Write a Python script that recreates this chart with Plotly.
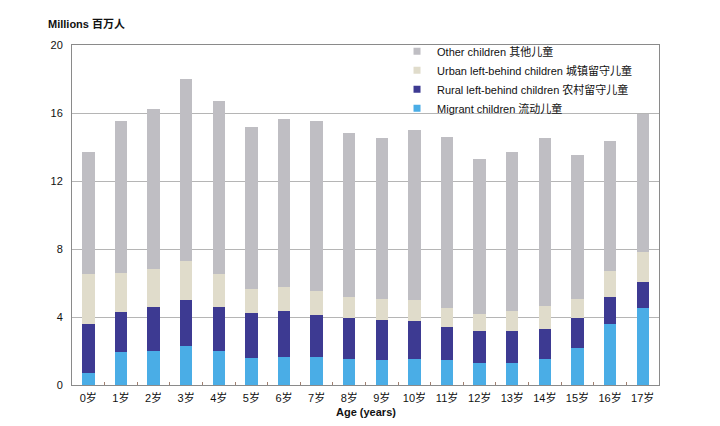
import plotly.graph_objects as go

ages = [f"{i}岁" for i in range(18)]

migrant = [0.73, 1.92, 2.02, 2.29, 2.02, 1.61, 1.67, 1.67, 1.55, 1.49, 1.55, 1.47, 1.27, 1.29, 1.55, 2.20, 3.59, 4.51]
rural   = [2.86, 2.35, 2.55, 2.71, 2.59, 2.61, 2.68, 2.45, 2.41, 2.31, 2.23, 1.92, 1.93, 1.87, 1.76, 1.74, 1.61, 1.57]
urban   = [2.92, 2.34, 2.25, 2.29, 1.94, 1.41, 1.41, 1.39, 1.24, 1.25, 1.22, 1.16, 0.98, 1.21, 1.36, 1.12, 1.51, 1.72]
other   = [7.18, 8.92, 9.43, 10.71, 10.14, 9.53, 9.89, 10.02, 9.62, 9.50, 9.98, 10.04, 9.11, 9.36, 9.84, 8.47, 7.64, 8.14]

series_names = [
    "Migrant children 流动儿童",
    "Rural left-behind children 农村留守儿童",
    "Urban left-behind children 城镇留守儿童",
    "Other children 其他儿童",
]
series_values = [migrant, rural, urban, other]
colors = ["#4aade6", "#3d3a92", "#e0dccb", "#bfbec3"]

y_ticks = [0, 4, 8, 12, 16, 20]

FONT = "Liberation Sans, Arial, Noto Sans CJK SC, sans-serif"

fig = go.Figure()
for name, vals, c in zip(series_names, series_values, colors):
    fig.add_trace(go.Bar(x=ages, y=vals, name=name, legendgroup=name, showlegend=False,
                         marker=dict(color=c, line=dict(width=0)), width=0.38))
# legend entries with small square swatches
for name, c in zip(series_names, colors):
    fig.add_trace(go.Scatter(x=[None], y=[None], mode="markers", name=name, legendgroup=name,
                             marker=dict(symbol="square", size=7, color=c), showlegend=True))

fig.update_layout(
    barmode="stack",
    width=720, height=426,
    margin=dict(l=72, r=61, t=45, b=41),
    paper_bgcolor="white", plot_bgcolor="white",
    font=dict(family=FONT, size=11, color="#111"),
    showlegend=True,
    legend=dict(
        x=0.5537, y=1.024, xanchor="left", yanchor="top",
        traceorder="reversed",
        bgcolor="rgba(255,255,255,0)",
        font=dict(size=11, family=FONT, color="#111"),
        itemwidth=30, tracegroupgap=0,
    ),
    xaxis=dict(
        range=[-0.5, 17.5], automargin=False,
        showline=True, linecolor="#8a8a8a", linewidth=1, mirror=True,
        ticks="inside", ticklen=3, tickcolor="#a08070", tickson="boundaries",
        tickfont=dict(size=11), ticklabelstandoff=3,
        showgrid=False,
    ),
    yaxis=dict(
        range=[0, 20], automargin=False,
        tickvals=y_ticks,
        showline=True, linecolor="#8a8a8a", linewidth=1, mirror=True,
        showgrid=True, gridcolor="#b5b5b5", gridwidth=1,
        ticks="", tickfont=dict(size=11), ticklabelstandoff=6,
        zeroline=False,
    ),
    annotations=[
        dict(text="<b>Millions 百万人</b>", xref="paper", yref="paper",
             x=-0.045, y=1.0, yshift=21, xanchor="left", yanchor="middle",
             showarrow=False, font=dict(size=11, family=FONT, color="#111")),
        dict(text="<b>Age (years)</b>", xref="paper", yref="paper",
             x=0.5, y=0, yshift=-27, xanchor="center", yanchor="middle",
             showarrow=False, font=dict(size=11, family=FONT, color="#111")),
    ],
)

fig.write_html("out.html")
